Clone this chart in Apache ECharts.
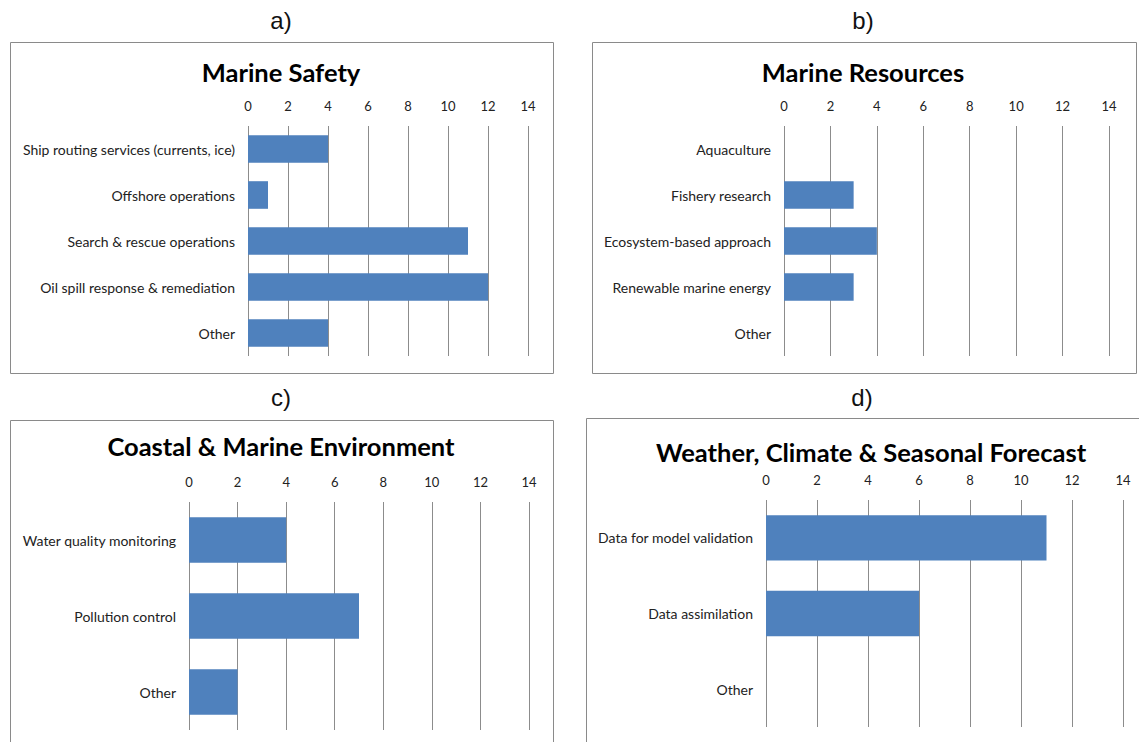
<!DOCTYPE html>
<html>
<head>
<meta charset="utf-8">
<script src="https://cdn.jsdelivr.net/npm/echarts@6/dist/echarts.min.js"></script>
<style>
  html, body { margin: 0; padding: 0; background: #fff; }
  #chart { width: 1139px; height: 742px; }
</style>
</head>
<body>
<div id="chart"></div>
<script>
// Panel data: categories listed top to bottom, values are response counts
const safetyCats = ['Ship routing services (currents, ice)', 'Offshore operations', 'Search & rescue operations', 'Oil spill response & remediation', 'Other'];
const safetyVals = [4, 1, 11, 12, 4];

const resourceCats = ['Aquaculture', 'Fishery research', 'Ecosystem-based approach', 'Renewable marine energy', 'Other'];
const resourceVals = [0, 3, 4, 3, 0];

const coastalCats = ['Water quality monitoring', 'Pollution control', 'Other'];
const coastalVals = [4, 7, 2];

const weatherCats = ['Data for model validation', 'Data assimilation', 'Other'];
const weatherVals = [11, 6, 0];

const panelLetters = ['a)', 'b)', 'c)', 'd)'];
const panelTitles = ['Marine Safety', 'Marine Resources', 'Coastal & Marine Environment', 'Weather, Climate & Seasonal Forecast'];

const axisMin = 0, axisMax = 14, axisStep = 2;

const BAR = '#4F81BD';
const GRID_LINE = '#8c8c8c';
const FONT = 'Lato, "Open Sans", sans-serif';

// Layout of the four panels
const panels = [
  { cats: safetyCats,   vals: safetyVals,   grid: { left: 248, top: 126, width: 280, height: 230 }, box: [10, 42, 543, 331],  letter: [281, 20],  title: [281, 72] },
  { cats: resourceCats, vals: resourceVals, grid: { left: 784, top: 126, width: 325, height: 230 }, box: [592, 42, 544, 331], letter: [863, 20],  title: [863, 72] },
  { cats: coastalCats,  vals: coastalVals,  grid: { left: 189, top: 502, width: 340, height: 228 }, box: [10, 420, 543, 340], letter: [281, 397], title: [281, 446] },
  { cats: weatherCats,  vals: weatherVals,  grid: { left: 766, top: 500, width: 357, height: 227 }, box: [586, 418, 570, 340], letter: [862, 397], title: [871, 452] }
];

const chart = echarts.init(document.getElementById('chart'), null, { renderer: 'svg' });

const grids = [], xAxes = [], yAxes = [], series = [], graphics = [];

panels.forEach((p, i) => {
  grids.push(Object.assign({ containLabel: false }, p.grid));
  xAxes.push({
    type: 'value', gridIndex: i, position: 'top',
    min: axisMin, max: axisMax, interval: axisStep,
    axisLine: { show: false }, axisTick: { show: false },
    axisLabel: { margin: 14, fontSize: 13, color: '#222', fontFamily: FONT },
    splitLine: { show: true, lineStyle: { color: GRID_LINE, width: 1 } }
  });
  yAxes.push({
    type: 'category', gridIndex: i, data: p.cats, inverse: true,
    axisLine: { show: false }, axisTick: { show: false },
    axisLabel: { margin: 13, fontSize: 14, color: '#222', fontFamily: FONT },
    splitLine: { show: false }
  });
  series.push({
    type: 'bar', xAxisIndex: i, yAxisIndex: i, data: p.vals,
    barCategoryGap: '40%',
    itemStyle: { color: BAR },
    silent: true
  });
  graphics.push({
    type: 'rect', silent: true, z: -1,
    shape: { x: p.box[0] + 0.5, y: p.box[1] + 0.5, width: p.box[2], height: p.box[3] },
    style: { fill: 'none', stroke: '#8a8a8a', lineWidth: 1 }
  });
  graphics.push({
    type: 'text', silent: true,
    x: p.letter[0], y: p.letter[1],
    style: { text: panelLetters[i], font: '24px "Liberation Sans", Arial, sans-serif', fill: '#111', textAlign: 'center', textVerticalAlign: 'middle' }
  });
  graphics.push({
    type: 'text', silent: true,
    x: p.title[0], y: p.title[1],
    style: { text: panelTitles[i], font: 'bold 25.5px ' + FONT, fill: '#000', textAlign: 'center', textVerticalAlign: 'middle' }
  });
});

chart.setOption({
  animation: false,
  backgroundColor: '#fff',
  grid: grids,
  xAxis: xAxes,
  yAxis: yAxes,
  series: series,
  graphic: graphics
});
</script>
</body>
</html>
